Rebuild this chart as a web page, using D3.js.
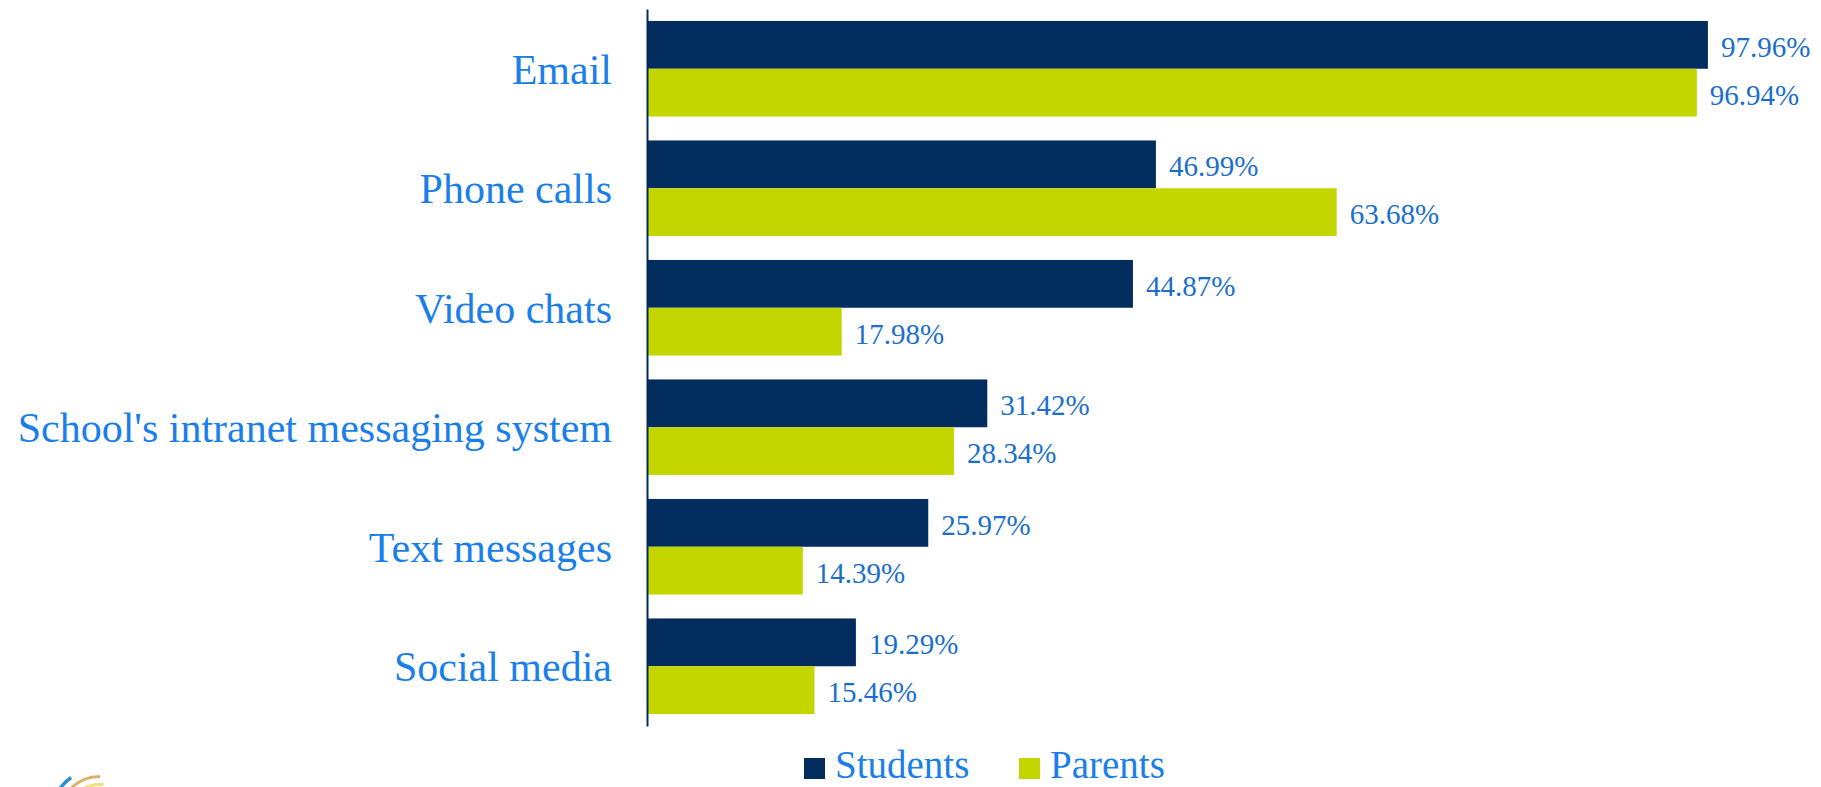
<!DOCTYPE html>
<html>
<head>
<meta charset="utf-8">
<script src="https://cdn.jsdelivr.net/npm/d3@7"></script>
<style>
  html, body { margin: 0; padding: 0; background: #fff; }
  svg { display: block; }
</style>
</head>
<body>
<svg id="chart" width="1821" height="787"></svg>
<script>
// data
var categories = ["Email", "Phone calls", "Video chats", "School's intranet messaging system", "Text messages", "Social media"];
var seriesNames = ["Students", "Parents"];
var students = [97.96, 46.99, 44.87, 31.42, 25.97, 19.29];
var parents = [96.94, 63.68, 17.98, 28.34, 14.39, 15.46];

var colors = { Students: "#032d5e", Parents: "#c4d600" };
var font = "'Liberation Serif', 'Times New Roman', serif";

var svg = d3.select('#chart');

var x = d3.scaleLinear().domain([0, 100]).range([647, 1730]);
var y = d3.scaleBand().domain(categories).range([9, 726]).paddingInner(0.2).paddingOuter(0.1);
var ySub = d3.scaleBand().domain(seriesNames).range([0, y.bandwidth()]);

var rows = categories.map(function (c, i) {
    return { cat: c, values: [
        { name: "Students", v: students[i] },
        { name: "Parents", v: parents[i] }
    ] };
});

var groups = svg.selectAll('g.cat')
    .data(rows)
    .enter()
    .append('g')
    .attr('class', 'cat')
    .attr('transform', function (d) { return 'translate(0,' + y(d.cat) + ')'; });

groups.selectAll('rect')
    .data(function (d) { return d.values; })
    .enter()
    .append('rect')
    .attr('x', x(0))
    .attr('y', function (d) { return ySub(d.name); })
    .attr('width', function (d) { return x(d.v) - x(0); })
    .attr('height', ySub.bandwidth())
    .style('fill', function (d) { return colors[d.name]; });

// value labels
groups.selectAll('text.val')
    .data(function (d) { return d.values; })
    .enter()
    .append('text')
    .attr('class', 'val')
    .attr('x', function (d) { return x(d.v) + 13; })
    .attr('y', function (d) { return ySub(d.name) + ySub.bandwidth() / 2 + 12; })
    .style('font-family', font)
    .style('font-size', '29px')
    .style('fill', '#1a6fce')
    .text(function (d) { return d.v.toFixed(2) + '%'; });

// category axis
var yAxis = d3.axisLeft(y).tickSize(0).tickPadding(35);
var axisG = svg.append('g')
    .attr('transform', 'translate(' + x(0) + ',0)')
    .call(yAxis);
axisG.select('.domain')
    .attr('stroke', '#032d5e')
    .attr('stroke-width', 2);
axisG.selectAll('text')
    .attr('dy', '0.36em')
    .style('font-family', font)
    .style('font-size', '42px')
    .style('fill', '#1a7fea');

// legend
var legendX = [804, 1019];
var legend = svg.selectAll('g.legend')
    .data(seriesNames)
    .enter()
    .append('g')
    .attr('class', 'legend')
    .attr('transform', function (d, i) { return 'translate(' + legendX[i] + ',758)'; });
legend.append('rect')
    .attr('width', 21)
    .attr('height', 21)
    .style('fill', function (d) { return colors[d]; });
legend.append('text')
    .attr('x', 31)
    .attr('y', 20)
    .style('font-family', font)
    .style('font-size', '39px')
    .style('fill', '#1a7fea')
    .text(function (d) { return d; });

// partial logo at bottom left
var logo = svg.append('g').attr('transform', 'translate(100,818)');
var arcs = [
    { r: 48, a0: -1.0, a1: -0.62, c: '#2a8fd0', w: 3.5 },
    { r: 40, a0: -0.8, a1: 0.0, c: '#d9b36a', w: 3 },
    { r: 32, a0: -0.75, a1: 0.1, c: '#f2e27a', w: 3 },
    { r: 24, a0: -0.7, a1: 0.2, c: '#f6ef9c', w: 3 }
];
logo.selectAll('path')
    .data(arcs)
    .enter()
    .append('path')
    .attr('d', function (d) {
        return d3.arc()({ innerRadius: d.r, outerRadius: d.r + d.w, startAngle: d.a0, endAngle: d.a1 });
    })
    .style('fill', function (d) { return d.c; });
</script>
</body>
</html>
